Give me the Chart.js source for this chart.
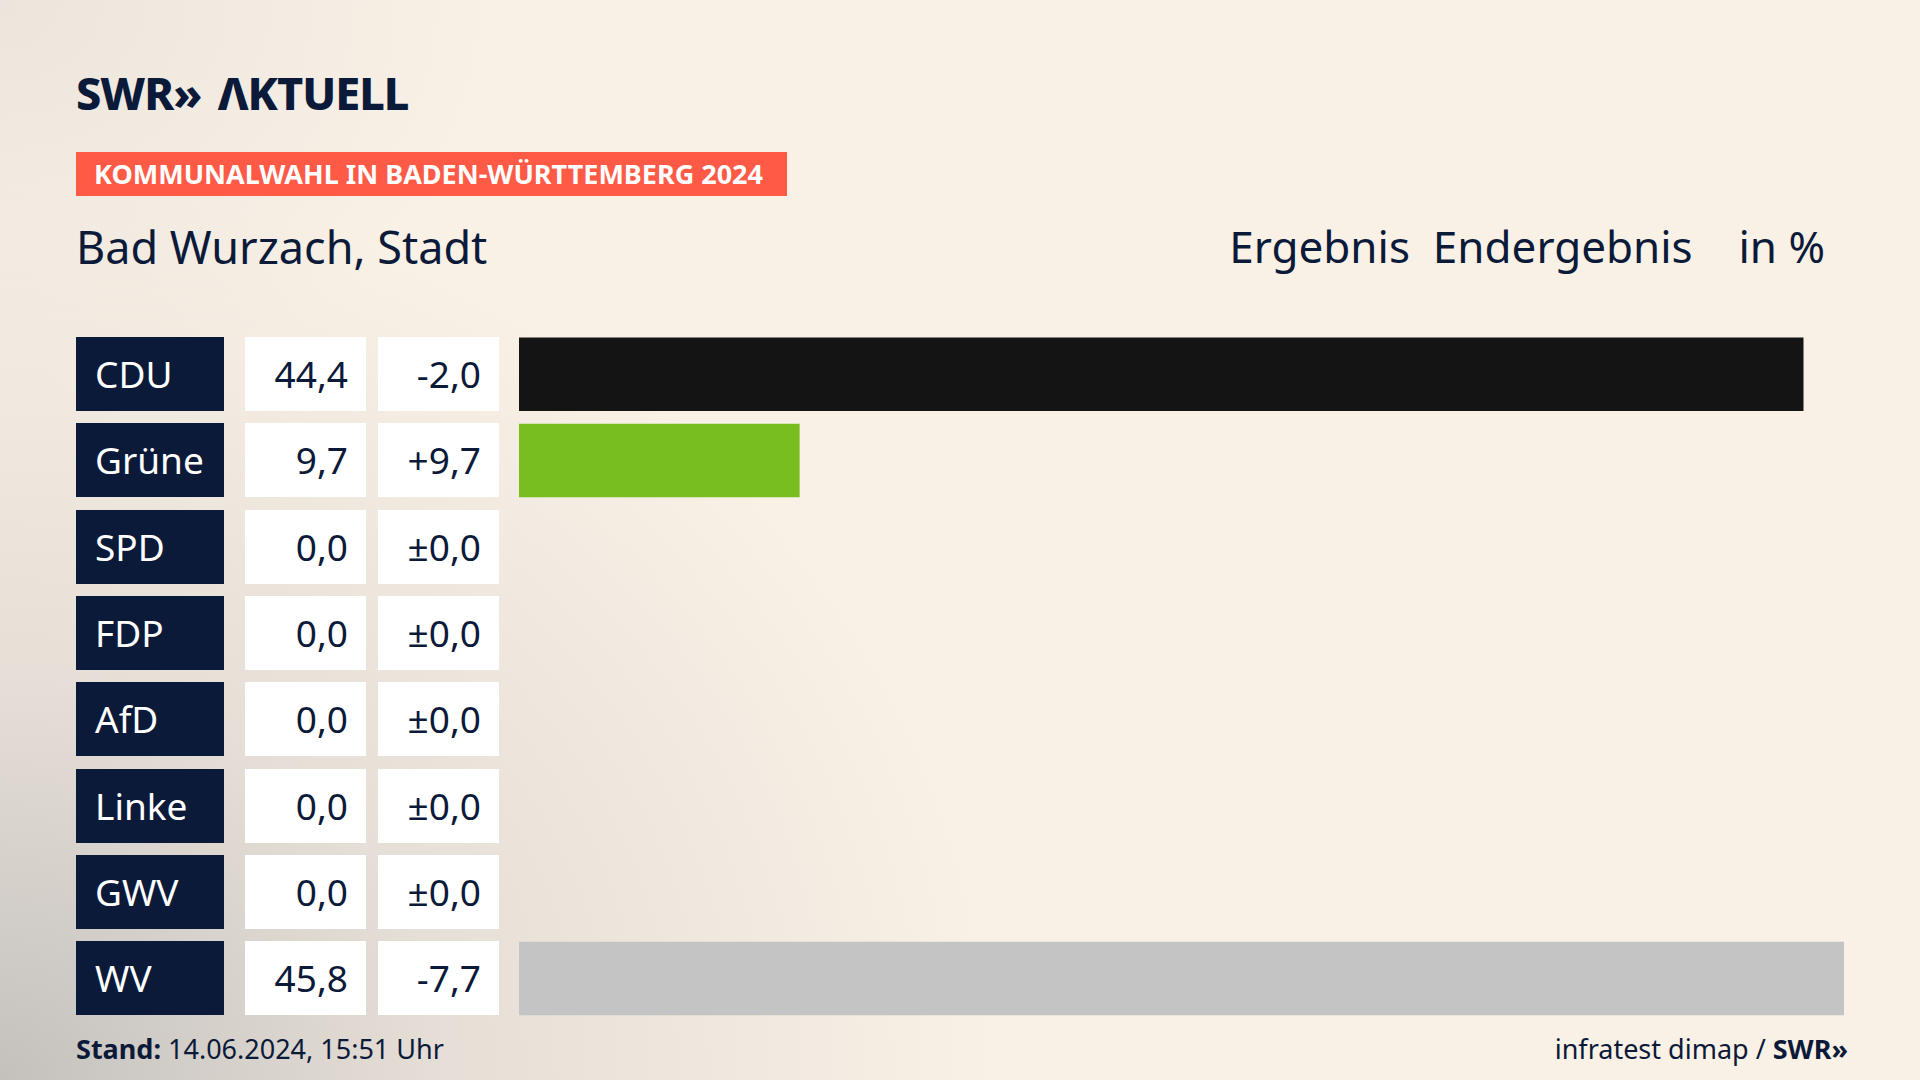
<!DOCTYPE html>
<html><head><meta charset="utf-8">
<script src="https://cdn.jsdelivr.net/npm/chart.js@4"></script>
<style>
html,body{margin:0;width:1920px;height:1080px;overflow:hidden}
body{position:relative;font-family:"Noto Sans",sans-serif;color:#0c1a3a;
background:radial-gradient(ellipse 1000px 900px at 0% 100%, #c4c1bd 0%, #e6dfd7 45%, rgba(249,240,230,0) 100%),
radial-gradient(ellipse 500px 400px at 0% 0%, #ebe5dd 0%, rgba(249,240,230,0) 100%),#f9f1e6}
.abs{position:absolute}
.box{position:absolute;height:74px;font-size:37px;line-height:74px;box-sizing:border-box}
</style></head><body>
<div class="abs" style="left:76px;top:62px;font-size:45px;font-weight:800;letter-spacing:-1px">SWR<span style="letter-spacing:-6px">»</span>&nbsp; ΛKTUELL</div>
<div class="abs" style="left:76px;top:152px;width:711px;height:44px;background:#ff5a46;color:#fff;font-size:27px;font-weight:700;line-height:44px;padding-left:18px;box-sizing:border-box">KOMMUNALWAHL IN BADEN-WÜRTTEMBERG 2024</div>
<div class="abs" style="left:76px;top:216px;font-size:45px">Bad Wurzach, Stadt</div>
<div class="abs" style="right:95px;top:216px;font-size:44px;word-spacing:0">Ergebnis&nbsp; Endergebnis&nbsp;&nbsp;&nbsp; in %</div>
<div id="rows"></div>
<div class="abs" style="left:519px;top:330.6px;width:1330px;height:690.6px"><canvas id="c"></canvas></div>
<div class="abs" style="left:76px;top:1030px;font-size:27px"><b>Stand:</b> 14.06.2024, 15:51 Uhr</div>
<div class="abs" style="right:76px;top:1030px;font-size:27px">infratest dimap / <b>SWR<span style="letter-spacing:-4px">»</span></b></div>
<script>
const parties=["CDU","Grüne","SPD","FDP","AfD","Linke","GWV","WV"];
const results=[44.4,9.7,0.0,0.0,0.0,0.0,0.0,45.8];
const diffs=["-2,0","+9,7","±0,0","±0,0","±0,0","±0,0","±0,0","-7,7"];
const colors=["#141414","#78be1e","#e3000f","#ffd600","#009ee0","#be3075","#888888","#c4c4c4"];
const rows=document.getElementById('rows');
parties.forEach((p,i)=>{
 const t=337+i*86.3;
 rows.innerHTML+=`<div class="box" style="left:76px;top:${t}px;width:148px;background:#0c1a3a;color:#fff;padding-left:19px">${p}</div>
 <div class="box" style="left:245px;top:${t}px;width:121px;background:#fff;text-align:right;padding-right:18px">${results[i].toFixed(1).replace('.',',')}</div>
 <div class="box" style="left:378px;top:${t}px;width:121px;background:#fff;text-align:right;padding-right:18px">${diffs[i]}</div>`;
});
new Chart(document.getElementById('c'),{type:'bar',
data:{labels:parties,datasets:[{data:results,backgroundColor:colors,barPercentage:0.852,categoryPercentage:1}]},
options:{indexAxis:'y',responsive:true,maintainAspectRatio:false,animation:false,
layout:{padding:0},plugins:{legend:{display:false},tooltip:{enabled:false}},
scales:{x:{display:false,min:0,max:45.8*1330/1325},y:{display:false}}}});
</script>
</body></html>
